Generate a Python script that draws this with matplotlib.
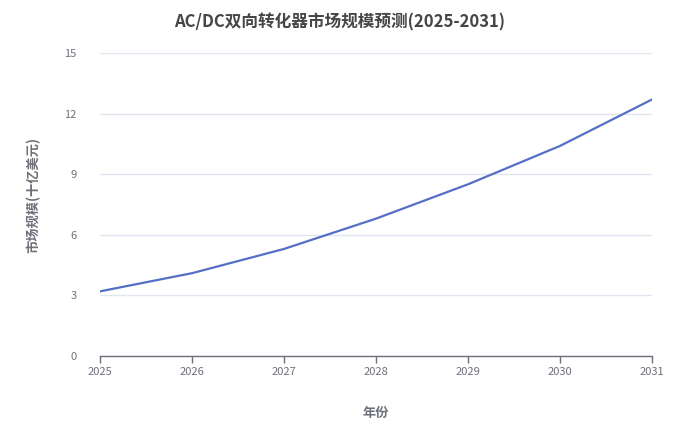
import matplotlib
matplotlib.use("Agg")
import matplotlib.pyplot as plt

plt.rcParams['font.family'] = ['Noto Sans CJK SC', 'DejaVu Sans']

years = [2025, 2026, 2027, 2028, 2029, 2030, 2031]
market_size = [3.2, 4.1, 5.3, 6.8, 8.5, 10.4, 12.7]
y_ticks = [0, 3, 6, 9, 12, 15]

fig = plt.figure(figsize=(6.8, 4.37), dpi=100)
ax = fig.add_axes([100 / 680, 1 - 356 / 437, 552 / 680, 303 / 437])

ax.plot(years, market_size, color="#5470c6", linewidth=1.6, solid_capstyle="round")

ax.set_xlim(years[0], years[-1])
ax.set_ylim(0, 15)
ax.set_xticks(years)
ax.set_yticks(y_ticks)
ax.grid(axis="y", color="#e0e6f1", linewidth=1)
ax.set_axisbelow(True)

for side in ["top", "right", "left"]:
    ax.spines[side].set_visible(False)
ax.spines["bottom"].set_color("#6e7079")
ax.spines["bottom"].set_linewidth(1)

ax.tick_params(axis="x", colors="#6e7079", labelsize=8, length=5, width=1, pad=3)
ax.tick_params(axis="y", colors="#6e7079", labelsize=8, length=0, pad=17)

fig.text(0.5, 1 - 22 / 437, "AC/DC双向转化器市场规模预测(2025-2031)",
         ha="center", va="center", fontsize=12, fontweight="bold", color="#464646")
fig.text(376 / 680, 1 - 413 / 437, "年份", ha="center", va="center",
         fontsize=9.5, fontweight="bold", color="#6e7079")
fig.text(33 / 680, 1 - 195 / 437, "市场规模(十亿美元)", ha="center", va="center",
         rotation=90, fontsize=9.5, fontweight="bold", color="#6e7079")

fig.savefig("out.png", dpi=100)
